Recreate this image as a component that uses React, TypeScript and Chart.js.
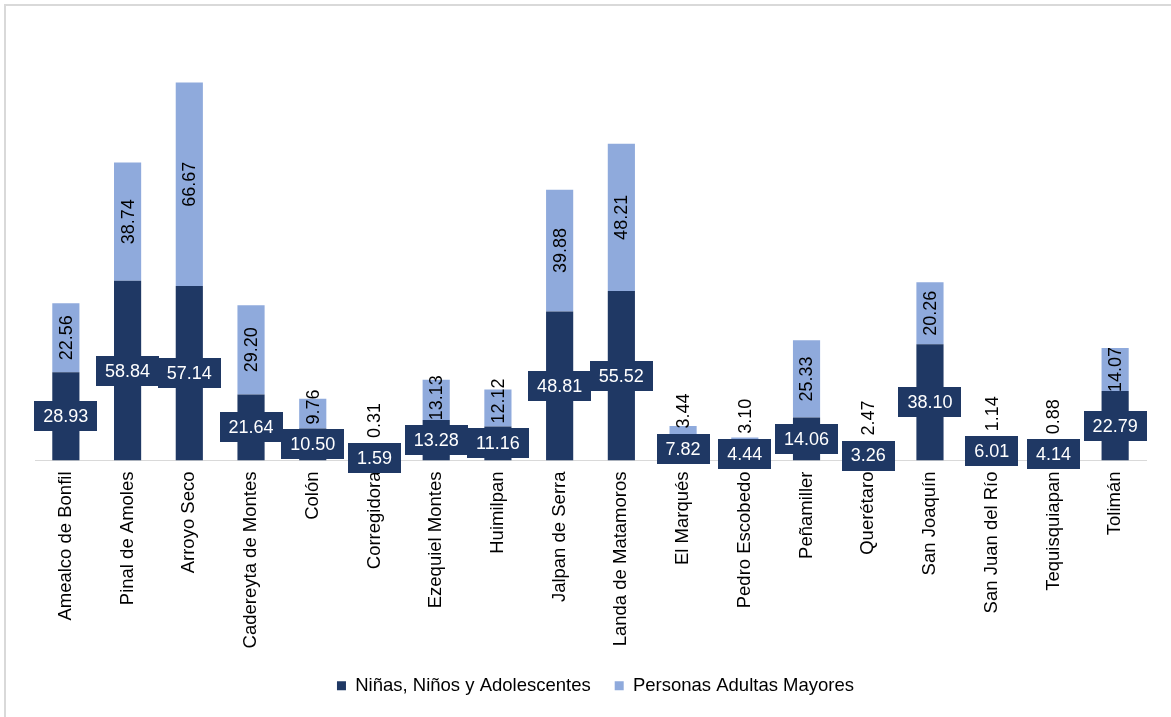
import React, { useEffect, useRef } from "react";
import { Chart, registerables } from "chart.js";

Chart.register(...registerables);

const categories = [
  "Amealco de Bonfil",
  "Pinal de Amoles",
  "Arroyo Seco",
  "Cadereyta de Montes",
  "Colón",
  "Corregidora",
  "Ezequiel Montes",
  "Huimilpan",
  "Jalpan de Serra",
  "Landa de Matamoros",
  "El Marqués",
  "Pedro Escobedo",
  "Peñamiller",
  "Querétaro",
  "San Joaquín",
  "San Juan del Río",
  "Tequisquiapan",
  "Tolimán",
];

const ninosValues = [
  28.93, 58.84, 57.14, 21.64, 10.5, 1.59, 13.28, 11.16, 48.81, 55.52, 7.82, 4.44,
  14.06, 3.26, 38.1, 6.01, 4.14, 22.79,
];

const adultosValues = [
  22.56, 38.74, 66.67, 29.2, 9.76, 0.31, 13.13, 12.12, 39.88, 48.21, 3.44, 3.1,
  25.33, 2.47, 20.26, 1.14, 0.88, 14.07,
];

const seriesNames = ["Niñas, Niños y Adolescentes", "Personas Adultas Mayores"];

const DARK = "#1F3864";
const LIGHT = "#8FAADC";
const FONT = "'Liberation Sans', Arial, sans-serif";

const labelPlugin = {
  id: "valueLabels",
  afterLayout(chart: any) {
    const lg = chart.legend;
    if (lg) {
      lg.left += 5;
      lg.right += 5;
    }
  },
  afterDatasetsDraw(chart: any) {
    const ctx = chart.ctx;
    const darkMeta = chart.getDatasetMeta(0);
    const lightMeta = chart.getDatasetMeta(1);
    ctx.save();
    ctx.font = `18px ${FONT}`;
    // light labels (rotated)
    lightMeta.data.forEach((el: any, i: number) => {
      const d = darkMeta.data[i].getProps(["x", "y", "base"], true);
      const darkMid = (d.y + d.base) / 2;
      const boxTop = darkMid - 15;
      const p = el.getProps(["x", "y", "base"], true);
      const txt = adultosValues[i].toFixed(2);
      const tw = ctx.measureText(txt).width;
      let cy = (p.y + p.base) / 2;
      const limit = boxTop - 5 - tw / 2;
      if (cy > limit) cy = limit;
      ctx.save();
      ctx.translate(p.x, cy);
      ctx.rotate(-Math.PI / 2);
      ctx.fillStyle = "#000000";
      ctx.textAlign = "center";
      ctx.textBaseline = "middle";
      ctx.fillText(txt, 0, 1);
      ctx.restore();
    });
    // dark labels (boxes)
    darkMeta.data.forEach((el: any, i: number) => {
      const p = el.getProps(["x", "y", "base"], true);
      const mid = (p.y + p.base) / 2;
      const txt = ninosValues[i].toFixed(2);
      const tw = ctx.measureText(txt).width;
      const bw = tw + 18;
      const bh = 30;
      ctx.fillStyle = DARK;
      ctx.fillRect(Math.round(p.x - bw / 2), Math.round(mid - bh / 2), Math.round(bw), bh);
      ctx.fillStyle = "#FFFFFF";
      ctx.textAlign = "center";
      ctx.textBaseline = "middle";
      ctx.fillText(txt, p.x, mid + 1);
    });
    ctx.restore();
  },
};

export default function App() {
  const canvasRef = useRef<HTMLCanvasElement | null>(null);

  useEffect(() => {
    document.body.style.margin = "0";
    document.body.style.overflow = "hidden";
    const canvas = canvasRef.current;
    if (!canvas) return;
    const chart = new Chart(canvas, {
      type: "bar",
      data: {
        labels: categories,
        datasets: [
          {
            label: seriesNames[0],
            data: ninosValues,
            backgroundColor: DARK,
            barPercentage: 0.44,
            categoryPercentage: 1,
          },
          {
            label: seriesNames[1],
            data: adultosValues,
            backgroundColor: LIGHT,
            barPercentage: 0.44,
            categoryPercentage: 1,
          },
        ],
      },
      options: {
        responsive: false,
        animation: false,
        layout: { padding: { left: 35, right: 25, top: 33, bottom: 12 } },
        scales: {
          x: {
            stacked: true,
            grid: { display: false, drawTicks: false },
            border: { display: true, color: "#D9D9D9", width: 1 },
            ticks: {
              autoSkip: false,
              minRotation: 90,
              maxRotation: 90,
              padding: 11,
              color: "#000000",
              font: { family: FONT, size: 18.5 },
            },
            afterFit: (scale: any) => {
              scale.height = 192;
            },
          },
          y: {
            stacked: true,
            display: false,
            min: 0,
            max: 140,
          },
        },
        plugins: {
          legend: {
            position: "bottom",
            labels: {
              boxWidth: 9,
              boxHeight: 9,
              padding: 24,
              color: "#000000",
              font: { family: FONT, size: 18.5 },
            },
          },
          tooltip: { enabled: false },
        },
      },
      plugins: [labelPlugin],
    });
    return () => chart.destroy();
  }, []);

  return (
    <div style={{ position: "relative", width: 1171, height: 717, overflow: "hidden", background: "#fff" }}>
      <div
        style={{
          position: "absolute",
          left: 4,
          top: 4,
          width: 1300,
          height: 900,
          borderLeft: "2px solid #D9D9D9",
          borderTop: "2px solid #D9D9D9",
        }}
      />
      <canvas
        ref={canvasRef}
        width={1171}
        height={717}
        style={{ position: "absolute", left: 0, top: 0, width: 1171, height: 717 }}
      />
    </div>
  );
}
